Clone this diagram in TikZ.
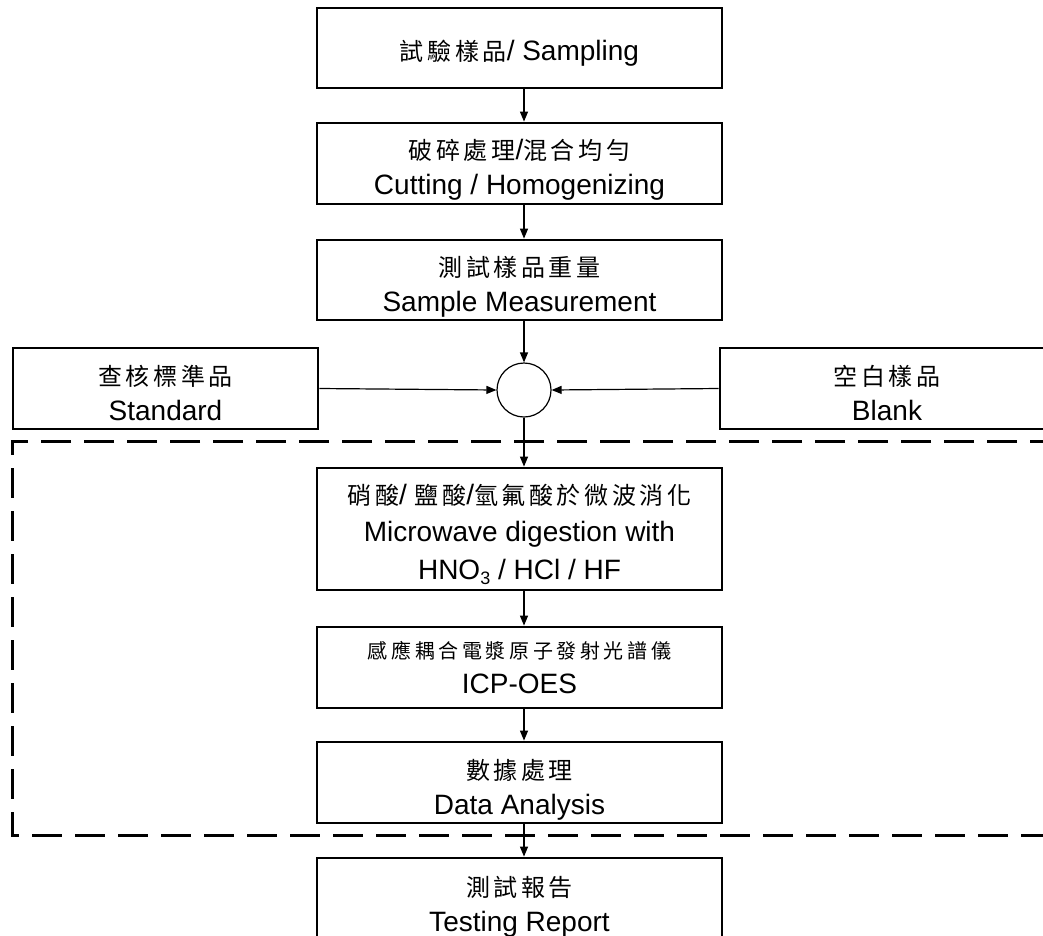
\documentclass[tikz,border=0pt]{standalone}
\usepackage{fontspec}
\setmainfont{Liberation Sans}
\newfontfamily\cjk[LetterSpace=15]{Noto Sans CJK TC}
\newfontfamily\cjks[LetterSpace=18]{Noto Sans CJK TC}
\usetikzlibrary{arrows.meta}
\newcommand{\zh}[1]{{\cjk\fontsize{24}{35}\selectfont #1}}
\newcommand{\zhs}[1]{{\cjks\fontsize{20}{35}\selectfont #1}}
\newcommand{\dn}[1]{\rule{0pt}{#1}}
\tikzset{
  box/.style={draw, line width=2.8pt, minimum width=405pt, minimum height=81pt,
    inner sep=0pt, align=center, font=\fontsize{28}{35}\selectfont},
  arr/.style={-{Triangle[length=10pt,width=8pt]}, line width=1.2pt},
  dashbox/.style={line width=3pt, dash pattern=on 30pt off 13pt},
}
\begin{document}
\begin{tikzpicture}[x=1pt,y=-1pt]
\useasboundingbox (0,0) rectangle (1043,935);
\clip (0,0) rectangle (1043,935);
% dashed frame
\coordinate (dA) at (1060,441);
\coordinate (dB) at (12,441);
\coordinate (dC) at (12,835);
\coordinate (dD) at (1060,835);
\draw[dashbox] (dA) -- (dB) -- (dC) -- (dD);
% boxes
\node[box, minimum height=80pt] (b1) at (519.5,48) {\dn{30pt}\zh{試驗樣品}/ Sampling};
\node[box] (b2) at (519.5,163.5) {\dn{33pt}\zh{破碎處理}/\zh{混合均勻}\\Cutting / Homogenizing};
\node[box, minimum height=80pt] (b3) at (519.5,280) {\dn{33pt}\zh{測試樣品重量}\\Sample Measurement};
\node[box, minimum width=305pt] (std) at (165.5,388.5) {\dn{29pt}\zh{查核標準品}\\Standard};
\node[box, minimum width=334pt] (blk) at (887,388.5) {\dn{29pt}\zh{空白樣品}\\Blank};
\node[draw, circle, line width=1.2pt, minimum size=54pt, inner sep=0pt] (c) at (524,390) {};
\node[box, minimum height=122pt, font=\fontsize{28}{37.5}\selectfont] (mw) at (519.5,529)
  {\dn{31pt}{\cjk\fontsize{24}{37.5}\selectfont 硝酸}/ {\cjk\fontsize{24}{37.5}\selectfont 鹽酸}/{\cjk\fontsize{24}{37.5}\selectfont 氫氟酸於微波消化}\\Microwave digestion with\\HNO\raisebox{-5pt}{\fontsize{18}{20}\selectfont 3} / HCl / HF};
\node[box] (icp) at (519.5,667.5) {\zhs{感應耦合電漿原子發射光譜儀}\\ICP-OES};
\node[box] (da) at (519.5,782.5) {\dn{34pt}\zh{數據處理}\\Data Analysis};
\node[box, minimum height=83pt] (tr) at (519.5,899.5) {\dn{34pt}\zh{測試報告}\\Testing Report};
% arrows
\draw[arr] (b1.south -| c.center) -- (b2.north -| c.center);
\draw[arr] (b2.south -| c.center) -- (b3.north -| c.center);
\draw[arr] (b3.south -| c.center) -- (c.north);
\draw[arr] (std.east) -- (c.west);
\draw[arr] (blk.west) -- (c.east);
\draw[arr] (c.south) -- (mw.north -| c.center);
\draw[arr] (mw.south -| c.center) -- (icp.north -| c.center);
\draw[arr] (icp.south -| c.center) -- (da.north -| c.center);
\draw[arr] (da.south -| c.center) -- (tr.north -| c.center);
\end{tikzpicture}
\end{document}
